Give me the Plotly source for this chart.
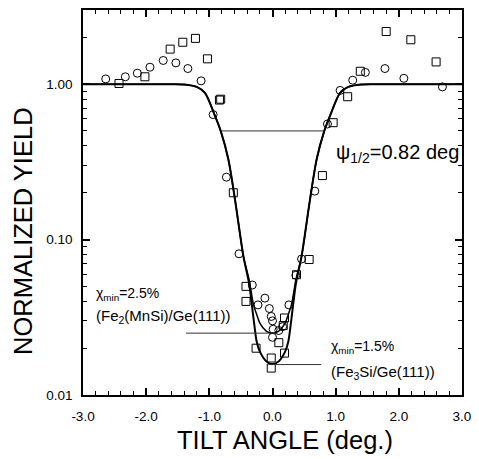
import math
import plotly.graph_objects as go

# ---- data ----
circ_x = [-2.64, -2.33, -2.14, -1.94, -1.73, -1.53, -1.34, -1.13, -0.94, -0.73, -0.53, -0.32,
          -0.23, -0.12, -0.05, -0.02, 0.0, 0.01, 0.0, 0.10, 0.16, 0.26, 0.37, 0.46, 0.67, 0.87,
          1.07, 1.27, 1.47, 1.78, 2.08, 2.69]
circ_y = [1.08, 1.115, 1.176, 1.285, 1.42, 1.37, 1.26, 1.05, 0.637, 0.252, 0.081, 0.051,
          0.038, 0.042, 0.036, 0.032, 0.030, 0.0265, 0.0235, 0.026, 0.0275, 0.038, 0.059, 0.075, 0.205, 0.554,
          0.911, 1.06, 1.19, 1.26, 1.09, 0.96]

sq_x = [-2.43, -2.02, -1.62, -1.42, -1.22, -1.03, -0.84, -0.82, -0.62, -0.42, -0.42, -0.26,
        -0.02, -0.02, 0.10, 0.19, 0.17, 0.19, 0.38, 0.58, 0.79, 0.96, 1.19, 1.39, 1.80, 2.19, 2.59]
sq_y = [1.01, 1.115, 1.68, 1.86, 1.97, 1.455, 0.79, 0.80, 0.20, 0.050, 0.040, 0.020,
        0.0173, 0.0149, 0.0217, 0.0186, 0.028, 0.0313, 0.0594, 0.0744, 0.258, 0.565, 0.83, 1.21, 2.18, 1.93, 1.39]

# fitted curves
fitA_x = [-3.0, -1.6, -1.4, -1.2, -1.07, -0.92, -0.82, -0.7, -0.59, -0.46, -0.37, -0.3, -0.25, -0.2, -0.1, 0.0,
          0.1, 0.2, 0.25, 0.3, 0.37, 0.46, 0.59, 0.7, 0.82, 0.92, 1.07, 1.2, 1.4, 1.6, 3.0]
fitA_y = [1.0, 1.0, 0.995, 0.96, 0.88, 0.64, 0.5, 0.33, 0.177, 0.078, 0.052, 0.031, 0.022, 0.019, 0.0165, 0.0158,
          0.0165, 0.019, 0.022, 0.031, 0.052, 0.078, 0.177, 0.33, 0.5, 0.64, 0.88, 0.96, 0.995, 1.0, 1.0]
fitB_x = [-3.0, -1.6, -1.4, -1.2, -1.07, -0.92, -0.82, -0.7, -0.59, -0.46, -0.37, -0.3, -0.25, -0.2, -0.1, 0.0,
          0.1, 0.2, 0.25, 0.3, 0.37, 0.46, 0.59, 0.7, 0.82, 0.92, 1.07, 1.2, 1.4, 1.6, 3.0]
fitB_y = [1.0, 1.0, 0.995, 0.96, 0.88, 0.64, 0.5, 0.33, 0.177, 0.078, 0.055, 0.038, 0.033, 0.029, 0.0258, 0.025,
          0.0258, 0.029, 0.033, 0.038, 0.055, 0.078, 0.177, 0.33, 0.5, 0.64, 0.88, 0.96, 0.995, 1.0, 1.0]

# guide lines
psi_line_x = [-0.80, 0.81]
psi_line_y = 0.5
chi25_line_x = [-1.37, 0.05]
chi25_line_y = 0.025
chi15_line_x = [-0.05, 0.77]
chi15_line_y = 0.0157

x_ticks = [-3, -2, -1, 0, 1, 2, 3]
x_ticktext = ["-3.0", "-2.0", "-1.0", "0.0", "1.0", "2.0", "3.0"]
y_ticks = [0.01, 0.1, 1.0]
y_ticktext = ["0.01", "0.10", "1.00"]
y_minor = [0.02, 0.03, 0.04, 0.05, 0.06, 0.07, 0.08, 0.09,
           0.2, 0.3, 0.4, 0.5, 0.6, 0.7, 0.8, 0.9, 2, 3]

FONT = "Liberation Sans, Arial, sans-serif"
L, R, T, B = 83, 469, 8, 395  # plot area in pixels


def px(xp, yp):
    return (xp - L) / (R - L), (B - yp) / (B - T)


fig = go.Figure()
fig.add_trace(go.Scatter(x=fitA_x, y=fitA_y, mode="lines",
                         line=dict(color="black", width=2, shape="spline", smoothing=0.8),
                         showlegend=False, hoverinfo="skip"))
fig.add_trace(go.Scatter(x=fitB_x, y=fitB_y, mode="lines",
                         line=dict(color="black", width=1.5, shape="spline", smoothing=0.8),
                         showlegend=False, hoverinfo="skip"))
fig.add_trace(go.Scatter(x=circ_x, y=circ_y, mode="markers",
                         marker=dict(symbol="circle-open", size=8, color="black", line=dict(width=1)),
                         showlegend=False))
fig.add_trace(go.Scatter(x=sq_x, y=sq_y, mode="markers",
                         marker=dict(symbol="square-open", size=8, color="black", line=dict(width=1)),
                         showlegend=False))

for xs, yv in [(psi_line_x, psi_line_y), (chi25_line_x, chi25_line_y), (chi15_line_x, chi15_line_y)]:
    fig.add_shape(type="line", xref="x", yref="y", x0=xs[0], x1=xs[1], y0=yv, y1=yv,
                  line=dict(color="#333333", width=1))


def ann_data(x, y, text, size):
    fig.add_annotation(x=x, y=math.log10(y), xref="x", yref="y", text=text,
                       showarrow=False, xanchor="left", yanchor="middle",
                       font=dict(family=FONT, size=size, color="black"))


ann_data(0.97, 0.36, "ψ<sub>1/2</sub>=0.82 deg", 20)
ann_data(-2.83, 0.0448, "χ<sub>min</sub>=2.5%", 14)
ann_data(-2.83, 0.0318, "(Fe<sub>2</sub>(MnSi)/Ge(111))", 15)
ann_data(0.89, 0.0204, "χ<sub>min</sub>=1.5%", 14)
ann_data(0.89, 0.0140, "(Fe<sub>3</sub>Si/Ge(111))", 15)

# axis titles as annotations (positioned like the reference)
ax, ay = px(289, 440)
fig.add_annotation(text="TILT ANGLE (deg.)", showarrow=False, xref="paper", yref="paper",
                   x=ax, y=ay, xanchor="center", yanchor="middle",
                   font=dict(family=FONT, size=25.5, color="black"))
ax, ay = px(22, 230)
fig.add_annotation(text="NORMALIZED YIELD", showarrow=False, textangle=-90,
                   xref="paper", yref="paper", x=ax, y=ay,
                   xanchor="center", yanchor="middle",
                   font=dict(family=FONT, size=25.5, color="black"))

fig.update_xaxes(range=[-3, 3], tickvals=x_ticks, ticktext=x_ticktext,
                 ticks="inside", ticklen=7, tickwidth=1.5, tickcolor="black",
                 minor=dict(dtick=0.2, tick0=0, ticks="inside", ticklen=4, tickwidth=1, tickcolor="black"),
                 showline=True, linecolor="black", linewidth=1.5, mirror="allticks",
                 showgrid=False, zeroline=False,
                 tickfont=dict(family=FONT, size=13.5, color="black"), ticklabelstandoff=8)
fig.update_yaxes(type="log", range=[-2, 0.477], tickvals=y_ticks, ticktext=y_ticktext,
                 ticks="inside", ticklen=7, tickwidth=1.5, tickcolor="black",
                 minor=dict(tickvals=y_minor, ticks="inside", ticklen=4, tickwidth=1, tickcolor="black"),
                 showline=True, linecolor="black", linewidth=1.5, mirror="allticks",
                 showgrid=False, zeroline=False,
                 tickfont=dict(family=FONT, size=13.5, color="black"), ticklabelstandoff=6)

fig.update_layout(width=479, height=459, margin=dict(l=L, r=479 - R, t=T, b=459 - B),
                  paper_bgcolor="white", plot_bgcolor="white", showlegend=False)

fig.write_html("out.html")
